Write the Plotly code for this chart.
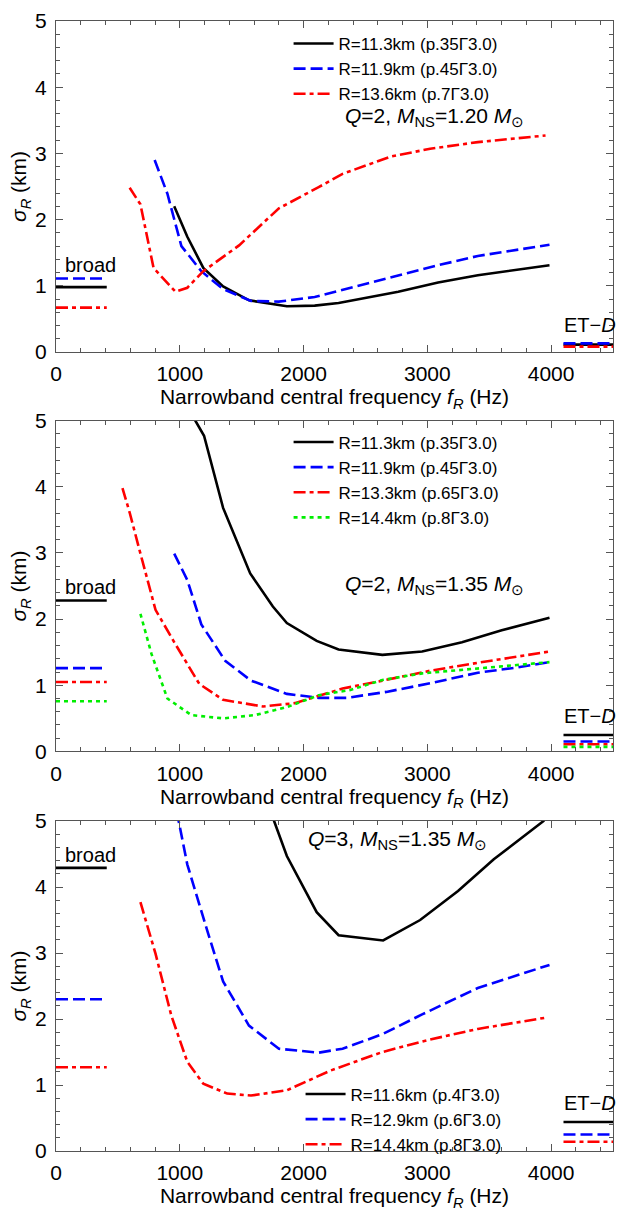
import plotly.graph_objects as go

# ---------------- data ----------------
# Panel 1: Q=2, M_NS=1.20
P1_LABELS = ["R=11.3km (p.35Γ3.0)", "R=11.9km (p.45Γ3.0)", "R=13.6km (p.7Γ3.0)"]
P1_A_F = [955, 1061, 1190, 1350, 1560, 1865, 2090, 2283, 2765, 3087, 3408, 3987]
P1_A_S = [2.20, 1.74, 1.27, 0.99, 0.78, 0.69, 0.70, 0.74, 0.91, 1.05, 1.16, 1.31]
P1_B_F = [797, 900, 1013, 1174, 1350, 1576, 1800, 2090, 2444, 2765, 3087, 3408, 3730, 3987]
P1_B_S = [2.90, 2.39, 1.60, 1.22, 0.95, 0.77, 0.76, 0.83, 1.00, 1.16, 1.31, 1.45, 1.54, 1.62]
P1_C_F = [595, 682, 788, 965, 1061, 1190, 1479, 1801, 2122, 2315, 2701, 3023, 3408, 3955]
P1_C_S = [2.48, 2.23, 1.27, 0.91, 0.97, 1.22, 1.61, 2.17, 2.49, 2.69, 2.95, 3.07, 3.17, 3.27]
P1_BROAD = [0.98, 1.11, 0.67]
P1_ETD = [0.11, 0.13, 0.08]

# Panel 2: Q=2, M_NS=1.35
P2_LABELS = ["R=11.3km (p.35Γ3.0)", "R=11.9km (p.45Γ3.0)", "R=13.3km (p.65Γ3.0)", "R=14.4km (p.8Γ3.0)"]
P2_A_F = [1105, 1125, 1196, 1350, 1569, 1752, 1865, 2106, 2283, 2637, 2958, 3280, 3601, 3987]
P2_A_S = [5.25, 5.00, 4.77, 3.68, 2.69, 2.19, 1.94, 1.67, 1.54, 1.46, 1.51, 1.65, 1.83, 2.02]
P2_B_F = [955, 1061, 1174, 1367, 1576, 1865, 2122, 2347, 2669, 3023, 3408, 3730, 3987]
P2_B_S = [2.99, 2.59, 1.92, 1.37, 1.07, 0.87, 0.81, 0.81, 0.90, 1.03, 1.19, 1.27, 1.35]
P2_C_F = [537, 595, 675, 804, 965, 1158, 1350, 1672, 1929, 2315, 2637, 3023, 3408, 3987]
P2_C_S = [3.98, 3.61, 3.04, 2.14, 1.62, 1.02, 0.78, 0.68, 0.73, 0.95, 1.07, 1.22, 1.34, 1.51]
P2_D_F = [682, 772, 900, 1093, 1350, 1608, 1865, 2122, 2379, 2637, 2958, 3408, 3987]
P2_D_S = [2.08, 1.47, 0.80, 0.55, 0.50, 0.55, 0.67, 0.85, 0.93, 1.08, 1.18, 1.25, 1.35]
P2_BROAD = [2.28, 1.26, 1.05, 0.76]
P2_ETD = [0.25, 0.15, 0.11, 0.07]

# Panel 3: Q=3, M_NS=1.35
P3_LABELS = ["R=11.6km (p.4Γ3.0)", "R=12.9km (p.6Γ3.0)", "R=14.4km (p.8Γ3.0)"]
P3_A_F = [1735, 1762, 1865, 2106, 2283, 2643, 2942, 3248, 3537, 3939, 3990]
P3_A_S = [5.20, 5.00, 4.47, 3.62, 3.27, 3.19, 3.50, 3.94, 4.42, 5.00, 5.25]
P3_B_F = [975, 990, 1061, 1222, 1350, 1559, 1801, 2122, 2315, 2637, 2958, 3408, 3730, 3987]
P3_B_S = [5.15, 5.00, 4.34, 3.34, 2.57, 1.90, 1.55, 1.49, 1.55, 1.77, 2.07, 2.47, 2.67, 2.82]
P3_C_F = [682, 804, 932, 1061, 1190, 1383, 1576, 1865, 2219, 2637, 3023, 3408, 3955]
P3_C_S = [3.77, 2.99, 2.05, 1.35, 1.02, 0.87, 0.84, 0.92, 1.22, 1.50, 1.69, 1.85, 2.02]
P3_BROAD = [4.29, 2.30, 1.27]
P3_ETD = [0.44, 0.25, 0.14]

PANEL_TITLES = ["<i>Q</i>=2, <i>M</i><sub>NS</sub>=1.20 <i>M</i><sub>⊙</sub>",
                "<i>Q</i>=2, <i>M</i><sub>NS</sub>=1.35 <i>M</i><sub>⊙</sub>",
                "<i>Q</i>=3, <i>M</i><sub>NS</sub>=1.35 <i>M</i><sub>⊙</sub>"]
X_TICKS = [0, 1000, 2000, 3000, 4000]
Y_TICKS = [0, 1, 2, 3, 4, 5]
BROAD_X = [0, 410]
ETD_X = [4100, 4500]

# ---------------- styles ----------------
STYLES = [
    dict(color="#000000", dash="solid"),
    dict(color="#0000ff", dash="12px,5px"),
    dict(color="#ff0000", dash="12px,4px,4px,4px"),
    dict(color="#00ee00", dash="4px,4px"),
]
LW = 2.6
FONT = "Liberation Sans, Arial, sans-serif"

W, H = 623, 1211
L, R, T, B = 56, 9, 19, 55
PH = H - T - B
panel_px = [(19, 352), (421, 754), (824, 1156)]
domains = [[(H - B - bot) / PH, (H - B - top) / PH] for top, bot in panel_px]

panels = [
    (P1_LABELS, [(P1_A_F, P1_A_S), (P1_B_F, P1_B_S), (P1_C_F, P1_C_S)], P1_BROAD, P1_ETD),
    (P2_LABELS, [(P2_A_F, P2_A_S), (P2_B_F, P2_B_S), (P2_C_F, P2_C_S), (P2_D_F, P2_D_S)], P2_BROAD, P2_ETD),
    (P3_LABELS, [(P3_A_F, P3_A_S), (P3_B_F, P3_B_S), (P3_C_F, P3_C_S)], P3_BROAD, P3_ETD),
]

fig = go.Figure()
legend_names = ["legend", "legend2", "legend3"]
annotations = []
for p, (labels, curves, broad, etd) in enumerate(panels):
    xa = "x" if p == 0 else f"x{p+1}"
    ya = "y" if p == 0 else f"y{p+1}"
    for i, (fx, sy) in enumerate(curves):
        st = STYLES[i]
        line = dict(color=st["color"], dash=st["dash"], width=LW)
        fig.add_trace(go.Scatter(x=fx, y=sy, mode="lines", line=line, name=labels[i],
                                 xaxis=xa, yaxis=ya, legend=legend_names[p], showlegend=True))
        fig.add_trace(go.Scatter(x=BROAD_X, y=[broad[i], broad[i]], mode="lines", line=line,
                                 xaxis=xa, yaxis=ya, showlegend=False, hoverinfo="skip"))
        fig.add_trace(go.Scatter(x=ETD_X, y=[etd[i], etd[i]], mode="lines", line=line,
                                 xaxis=xa, yaxis=ya, showlegend=False, hoverinfo="skip"))
    annotations.append(dict(x=60, y=max(broad) + 0.2, xref=xa, yref=ya, text="broad",
                            showarrow=False, xanchor="left", yanchor="middle",
                            font=dict(size=20, family=FONT, color="black")))
    annotations.append(dict(x=4495, y=max(etd) + 0.28, xref=xa, yref=ya, text="ET−<i>D</i>",
                            showarrow=False, xanchor="right", yanchor="middle", xshift=6,
                            font=dict(size=20, family=FONT, color="black")))

# panel condition labels
annotations.append(dict(x=3060, y=3.55, xref="x", yref="y", text=PANEL_TITLES[0], showarrow=False,
                        font=dict(size=21, family=FONT, color="black")))
annotations.append(dict(x=3060, y=2.52, xref="x2", yref="y2", text=PANEL_TITLES[1], showarrow=False,
                        font=dict(size=21, family=FONT, color="black")))
annotations.append(dict(x=2760, y=4.72, xref="x3", yref="y3", text=PANEL_TITLES[2], showarrow=False,
                        font=dict(size=21, family=FONT, color="black")))

axis_common = dict(
    showline=True, linecolor="#555", linewidth=1, mirror="allticks",
    ticks="inside", ticklen=7, tickwidth=1, tickcolor="#555",
    showgrid=False, zeroline=False,
    tickfont=dict(size=21, family=FONT, color="black"),
)
layout = dict(
    width=W, height=H, margin=dict(l=L, r=R, t=T, b=B),
    paper_bgcolor="white", plot_bgcolor="white",
    font=dict(family=FONT, color="black"),
    annotations=annotations,
)
xtitle = "Narrowband central frequency <i>f</i><sub><i>R</i></sub> (Hz)"
ytitle = "<i>σ</i><sub><i>R</i></sub> (km)"
for p in range(3):
    xk = "xaxis" if p == 0 else f"xaxis{p+1}"
    yk = "yaxis" if p == 0 else f"yaxis{p+1}"
    ya = "y" if p == 0 else f"y{p+1}"
    xa = "x" if p == 0 else f"x{p+1}"
    layout[xk] = dict(axis_common, range=[0, 4500], domain=[0, 1], anchor=ya,
                      tickvals=X_TICKS, ticktext=[str(v) for v in X_TICKS],
                      minor=dict(dtick=200, tick0=0, ticks="inside", ticklen=4, tickcolor="#555"),
                      ticklabelstandoff=3,
                      title=dict(text=xtitle, font=dict(size=21, family=FONT), standoff=3))
    layout[yk] = dict(axis_common, range=[0, 5], domain=domains[p], anchor=xa,
                      tickvals=Y_TICKS, ticktext=[str(v) for v in Y_TICKS],
                      minor=dict(dtick=0.2, tick0=0, ticks="inside", ticklen=4, tickcolor="#555"),
                      ticklabelstandoff=4,
                      title=dict(text=ytitle, font=dict(size=21, family=FONT), standoff=2))

leg_common = dict(xanchor="left", yanchor="top", bgcolor="rgba(0,0,0,0)", borderwidth=0,
                  font=dict(size=17, family=FONT, color="black"), itemwidth=40,
                  tracegroupgap=0, xref="paper", yref="paper")
layout["legend"] = dict(leg_common, x=(289 - L) / (W - L - R), y=(H - B - 24) / PH)
layout["legend2"] = dict(leg_common, x=(289 - L) / (W - L - R), y=(H - B - 425) / PH)
layout["legend3"] = dict(leg_common, x=(301 - L) / (W - L - R), y=(H - B - 1081) / PH)
fig.update_layout(**layout)

fig.write_html("out.html")
